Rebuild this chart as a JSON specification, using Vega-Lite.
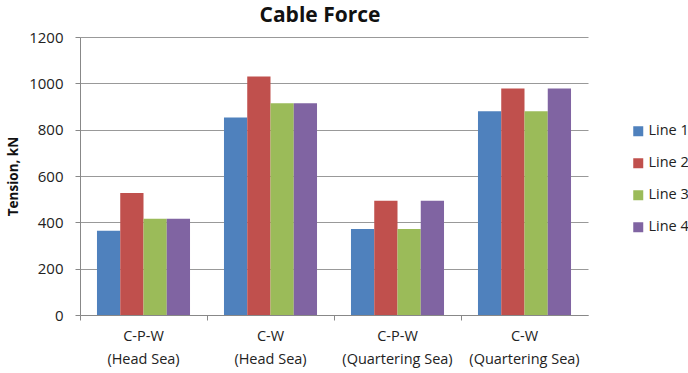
{
  "$schema": "https://vega.github.io/schema/vega-lite/v6.json",
  "width": 508,
  "height": 278,
  "autosize": {"type": "none"},
  "padding": {"left": 80, "top": 37, "right": 100, "bottom": 58},
  "background": "white",
  "title": {
    "text": "Cable Force",
    "font": "Open Sans",
    "fontSize": 21,
    "fontWeight": "bold",
    "color": "#111111",
    "anchor": "middle",
    "dx": -14,
    "offset": 4
  },
  "config": {
    "view": {"stroke": null},
    "font": "Open Sans"
  },
  "data": {
    "values": [
      {"case": "C-P-W|(Head Sea)", "line": "Line 1", "tension": 364},
      {"case": "C-P-W|(Head Sea)", "line": "Line 2", "tension": 527},
      {"case": "C-P-W|(Head Sea)", "line": "Line 3", "tension": 416},
      {"case": "C-P-W|(Head Sea)", "line": "Line 4", "tension": 416},
      {"case": "C-W|(Head Sea)", "line": "Line 1", "tension": 852},
      {"case": "C-W|(Head Sea)", "line": "Line 2", "tension": 1030},
      {"case": "C-W|(Head Sea)", "line": "Line 3", "tension": 914},
      {"case": "C-W|(Head Sea)", "line": "Line 4", "tension": 914},
      {"case": "C-P-W|(Quartering Sea)", "line": "Line 1", "tension": 371},
      {"case": "C-P-W|(Quartering Sea)", "line": "Line 2", "tension": 493},
      {"case": "C-P-W|(Quartering Sea)", "line": "Line 3", "tension": 371},
      {"case": "C-P-W|(Quartering Sea)", "line": "Line 4", "tension": 493},
      {"case": "C-W|(Quartering Sea)", "line": "Line 1", "tension": 880},
      {"case": "C-W|(Quartering Sea)", "line": "Line 2", "tension": 978},
      {"case": "C-W|(Quartering Sea)", "line": "Line 3", "tension": 880},
      {"case": "C-W|(Quartering Sea)", "line": "Line 4", "tension": 978}
    ]
  },
  "mark": {"type": "bar"},
  "encoding": {
    "x": {
      "field": "case",
      "type": "nominal",
      "sort": null,
      "scale": {"paddingInner": 0, "paddingOuter": 0},
      "axis": {
        "title": null,
        "labelAngle": 0,
        "bandPosition": 0,
        "labelOffset": 0,
        "labelExpr": "split(datum.label, '|')",
        "labelFontSize": 14.5,
        "labelLineHeight": 23,
        "labelColor": "#222222",
        "labelPadding": 9,
        "labelBaseline": "top",
        "labelAlign": "center",
        "tickSize": 5,
        "tickColor": "#888888",
        "domainColor": "#888888",
        "labelFont": "Open Sans"
      }
    },
    "xOffset": {
      "field": "line",
      "type": "nominal",
      "scale": {"paddingInner": 0, "paddingOuter": 0.73}
    },
    "y": {
      "field": "tension",
      "type": "quantitative",
      "scale": {"domain": [0, 1200], "nice": false},
      "axis": {
        "values": [0, 200, 400, 600, 800, 1000, 1200],
        "format": "d",
        "title": "Tension, kN",
        "titleFont": "Open Sans",
        "titleFontSize": 13.5,
        "titleFontWeight": "bold",
        "titleColor": "#111111",
        "titlePadding": 8,
        "labelFontSize": 15,
        "labelColor": "#222222",
        "labelPadding": 12,
        "tickSize": 5,
        "tickColor": "#888888",
        "domainColor": "#888888",
        "gridColor": "#999999",
        "gridWidth": 1.2
      }
    },
    "color": {
      "field": "line",
      "type": "nominal",
      "scale": {
        "domain": ["Line 1", "Line 2", "Line 3", "Line 4"],
        "range": ["#4F81BD", "#C0504D", "#9BBB59", "#8064A2"]
      },
      "legend": {
        "title": null,
        "orient": "none",
        "legendX": 551,
        "legendY": 87,
        "symbolType": "square",
        "symbolSize": 100,
        "symbolStrokeWidth": 0,
        "labelFontSize": 14.5,
        "labelColor": "#222222",
        "labelFont": "Open Sans",
        "rowPadding": 17,
        "labelOffset": 3
      }
    }
  }
}
